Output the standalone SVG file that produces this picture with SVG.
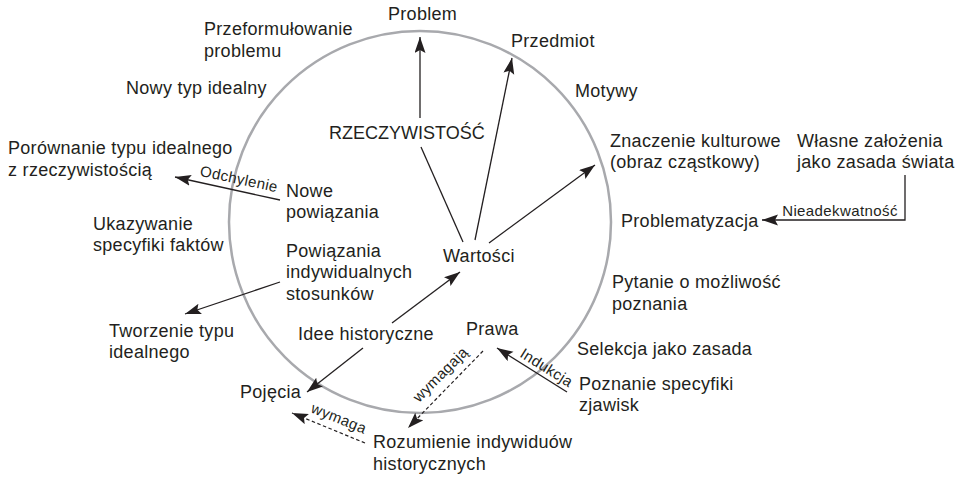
<svg xmlns="http://www.w3.org/2000/svg" width="965" height="477" viewBox="0 0 965 477">
<style>
.t{font-family:"Liberation Sans",Arial,Helvetica,sans-serif;font-size:18px;letter-spacing:0.3px;fill:#231f20}
.s{font-family:"Liberation Sans",Arial,Helvetica,sans-serif;font-size:15px;letter-spacing:0.4px;fill:#231f20}
.c{fill:none;stroke:#231f20;stroke-width:1.3}
.d{fill:none;stroke:#231f20;stroke-width:1.2;stroke-dasharray:3.5 2.5}
</style>
<defs>
<marker id="ah" markerUnits="userSpaceOnUse" markerWidth="17" markerHeight="12" refX="16" refY="5.5" orient="auto" viewBox="0 0 17 12">
<path d="M0,0 L16,5.5 L0,11 L3,5.5 z" fill="#231f20"/>
</marker>
</defs>
<rect width="965" height="477" fill="#fff"/>
<circle cx="420" cy="222" r="191" fill="none" stroke="#a8a9ad" stroke-width="2.5"/>
<g id="connectors">
<line class="c" x1="420" y1="118" x2="420" y2="37" marker-end="url(#ah)"/>
<line class="c" x1="475" y1="240" x2="512" y2="58" marker-end="url(#ah)"/>
<line class="c" x1="463" y1="242" x2="421" y2="147"/>
<line class="c" x1="489" y1="243" x2="595" y2="165" marker-end="url(#ah)"/>
<line class="c" x1="392" y1="323" x2="460" y2="272" marker-end="url(#ah)"/>
<line class="c" x1="363" y1="348" x2="307" y2="392" marker-end="url(#ah)"/>
<line class="c" x1="280" y1="200" x2="175" y2="177" marker-end="url(#ah)"/>
<line class="c" x1="280" y1="282" x2="185" y2="314" marker-end="url(#ah)"/>
<polyline class="c" points="905,175 905,220 762,220" marker-end="url(#ah)"/>
<line class="c" x1="567" y1="392" x2="497" y2="348" marker-end="url(#ah)"/>
<line class="d" x1="365" y1="443" x2="292" y2="413" marker-end="url(#ah)"/>
<line class="d" x1="483" y1="351" x2="408" y2="428" marker-end="url(#ah)"/>
<text class="s" x="238" y="184" text-anchor="middle" transform="rotate(12 238 184)">Odchylenie</text>
<text class="s" x="840" y="216" text-anchor="middle">Nieadekwatność</text>
<text class="s" x="544" y="372" text-anchor="middle" transform="rotate(32 544 372)">Indukcja</text>
<text class="s" x="337" y="423" text-anchor="middle" transform="rotate(22 337 423)">wymaga</text>
<text class="s" x="444" y="378" text-anchor="middle" transform="rotate(-45 444 378)">wymagają</text>
</g>
<g id="n-problem"><text class="t" x="388" y="20">Problem</text></g>
<g id="n-przeformulowanie"><text class="t" x="204" y="35">Przeformułowanie</text><text class="t" x="204" y="57">problemu</text></g>
<g id="n-nowy-typ"><text class="t" x="126" y="94">Nowy typ idealny</text></g>
<g id="n-rzeczywistosc"><text class="t" x="329" y="139" style="letter-spacing:0">RZECZYWISTOŚĆ</text></g>
<g id="n-porownanie"><text class="t" x="8" y="154">Porównanie typu idealnego</text><text class="t" x="8" y="176">z rzeczywistością</text></g>
<g id="n-nowe"><text class="t" x="286" y="197">Nowe</text><text class="t" x="286" y="218">powiązania</text></g>
<g id="n-ukazywanie"><text class="t" x="93" y="230">Ukazywanie</text><text class="t" x="93" y="251">specyfiki faktów</text></g>
<g id="n-powiazania"><text class="t" x="286" y="257">Powiązania</text><text class="t" x="286" y="278">indywidualnych</text><text class="t" x="286" y="300">stosunków</text></g>
<g id="n-tworzenie"><text class="t" x="109" y="337">Tworzenie typu</text><text class="t" x="109" y="358">idealnego</text></g>
<g id="n-idee"><text class="t" x="298" y="340">Idee historyczne</text></g>
<g id="n-pojecia"><text class="t" x="240" y="398">Pojęcia</text></g>
<g id="n-rozumienie"><text class="t" x="373" y="448">Rozumienie indywiduów</text><text class="t" x="373" y="470">historycznych</text></g>
<g id="n-prawa"><text class="t" x="466" y="335">Prawa</text></g>
<g id="n-wartosci"><text class="t" x="443" y="262">Wartości</text></g>
<g id="n-przedmiot"><text class="t" x="511" y="47">Przedmiot</text></g>
<g id="n-motywy"><text class="t" x="575" y="97">Motywy</text></g>
<g id="n-znaczenie"><text class="t" x="610" y="147">Znaczenie kulturowe</text><text class="t" x="610" y="168">(obraz cząstkowy)</text></g>
<g id="n-wlasne"><text class="t" x="797" y="147">Własne założenia</text><text class="t" x="797" y="168">jako zasada świata</text></g>
<g id="n-problematyzacja"><text class="t" x="621" y="227">Problematyzacja</text></g>
<g id="n-pytanie"><text class="t" x="612" y="288">Pytanie o możliwość</text><text class="t" x="612" y="310">poznania</text></g>
<g id="n-selekcja"><text class="t" x="577" y="355">Selekcja jako zasada</text></g>
<g id="n-poznanie"><text class="t" x="579" y="390">Poznanie specyfiki</text><text class="t" x="579" y="411">zjawisk</text></g>
</svg>
